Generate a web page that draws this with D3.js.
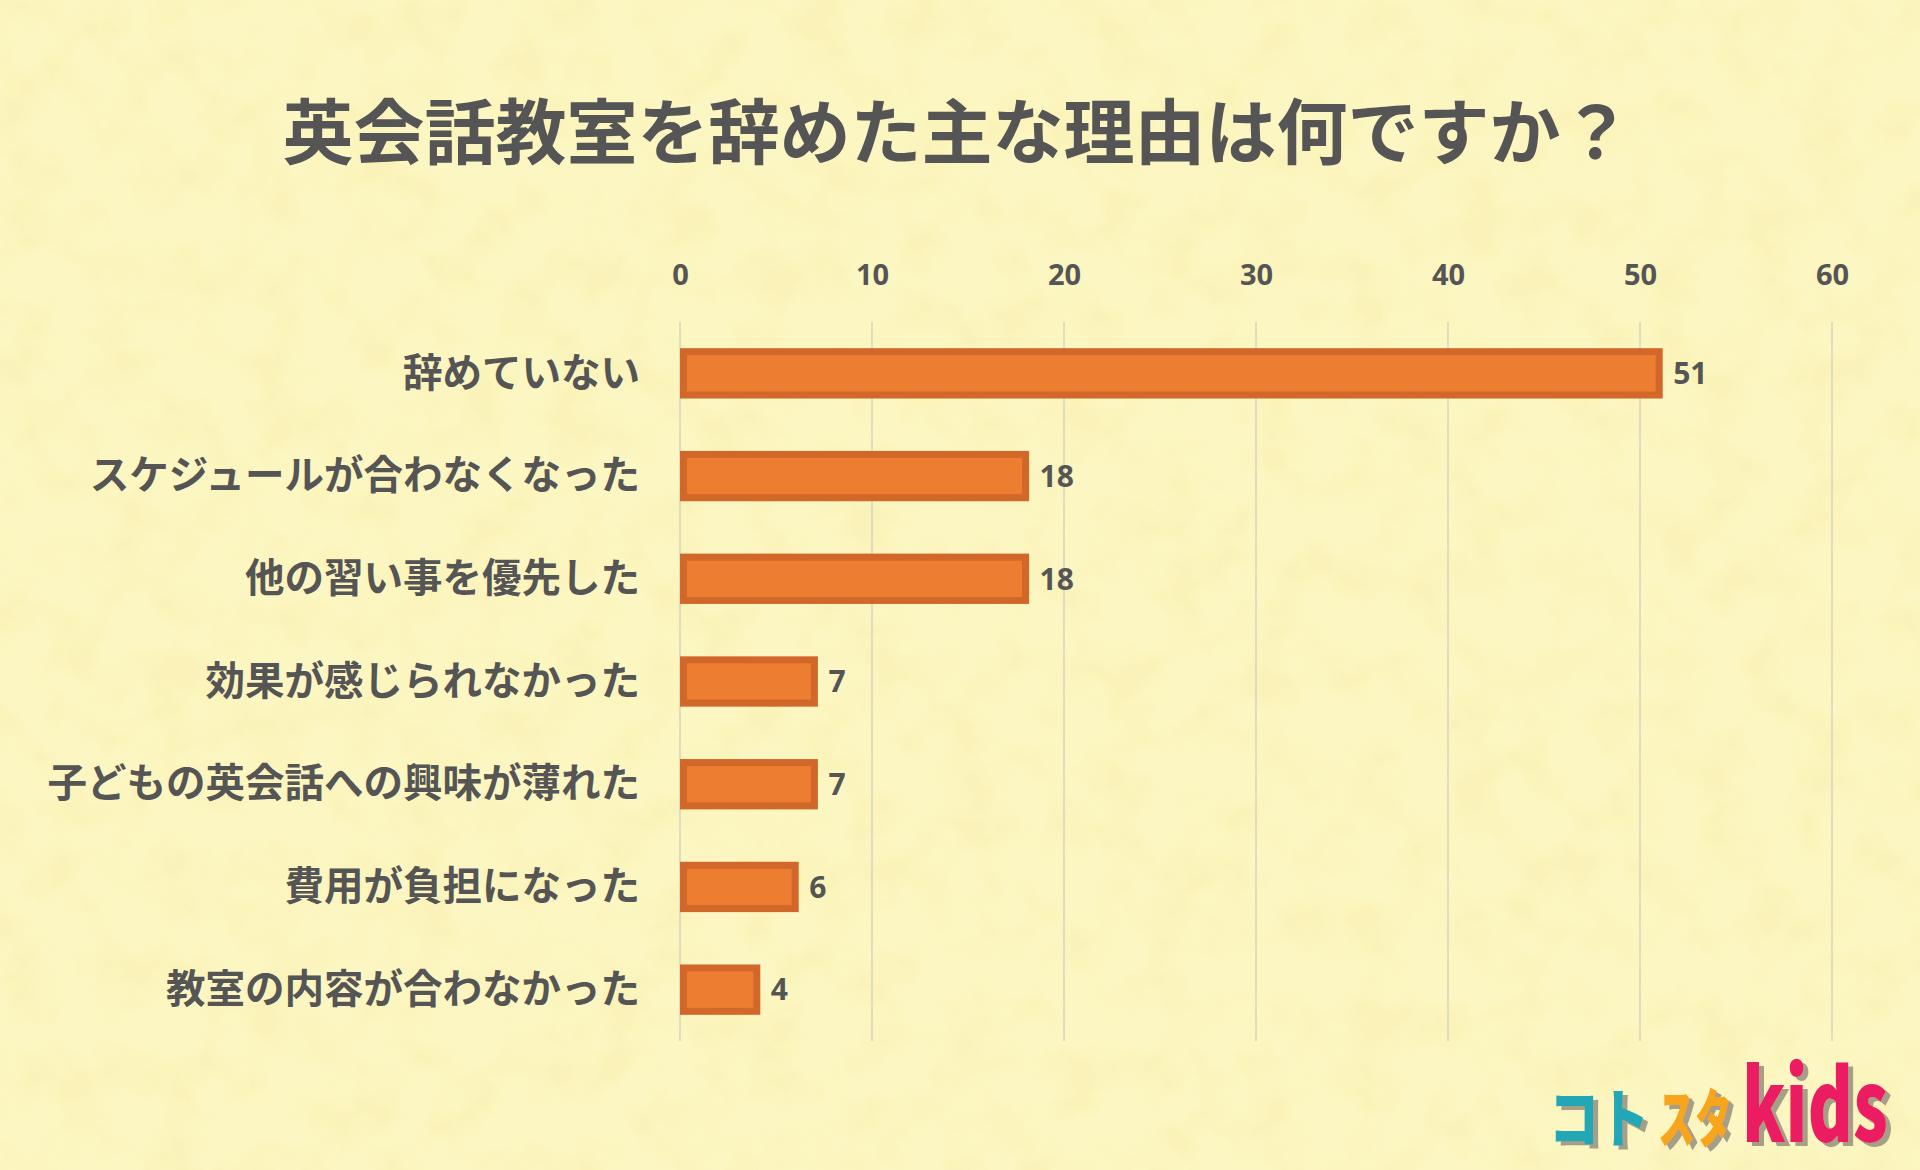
<!DOCTYPE html>
<html><head><meta charset="utf-8">
<script src="https://cdn.jsdelivr.net/npm/d3@7"></script>
<style>html,body{margin:0;padding:0;background:#FAF1AE;}svg{display:block;}</style>
</head><body>
<script>
const title = "英会話教室を辞めた主な理由は何ですか？";
const categories = ["辞めていない","スケジュールが合わなくなった","他の習い事を優先した","効果が感じられなかった","子どもの英会話への興味が薄れた","費用が負担になった","教室の内容が合わなかった"];
const values = [51,18,18,7,7,6,4];
const tickValues = [0,10,20,30,40,50,60];

const W=1920,H=1170;
const svg=d3.select("body").append("svg").attr("width",W).attr("height",H);
const defs=svg.append("defs");
const f=defs.append("filter").attr("id","tex").attr("x",0).attr("y",0).attr("width","100%").attr("height","100%");
f.append("feTurbulence").attr("type","fractalNoise").attr("baseFrequency","0.02").attr("numOctaves",4).attr("seed",7).attr("result","n");
f.append("feColorMatrix").attr("in","n").attr("type","matrix")
 .attr("values","0 0 0 0 0.95  0 0 0 0 0.88  0 0 0 0 0.45  3.2 0 0 0 -1.35");
const sh=defs.append("filter").attr("id","sh").attr("x","-10%").attr("y","-10%").attr("width","130%").attr("height","130%");
sh.append("feDropShadow").attr("dx",5).attr("dy",4).attr("stdDeviation",0).attr("flood-color","#A49F86").attr("flood-opacity",1);

svg.append("rect").attr("width",W).attr("height",H).attr("fill","#FCF6C2");
svg.append("rect").attr("width",W).attr("height",H).attr("filter","url(#tex)").attr("opacity",0.6);

const textCol="#555555";
svg.append("text").attr("x",957).attr("y",127).attr("text-anchor","middle").attr("dominant-baseline","central")
 .attr("font-family","'Noto Sans CJK JP'").attr("font-weight",700).attr("font-size",71).attr("fill",textCol).text(title);

const x=d3.scaleLinear().domain([0,60]).range([680,1832]);
const y=d3.scaleBand().domain(categories).range([322,1041]).paddingInner(0.51).paddingOuter(0.255);

const g=svg.append("g");
g.selectAll("line.grid").data(tickValues).join("line").attr("class","grid")
 .attr("x1",d=>x(d)).attr("x2",d=>x(d)).attr("y1",322).attr("y2",1041)
 .attr("stroke","#D6D3C0").attr("stroke-width",1.5);

const ax=svg.append("g").attr("transform","translate(0,275)")
 .call(d3.axisTop(x).tickValues(tickValues).tickSize(0).tickPadding(0));
ax.select(".domain").remove();
ax.selectAll("text").attr("dy","0.35em").attr("font-family","'Open Sans'").attr("font-weight",700).attr("font-size",29).attr("fill",textCol);

g.selectAll("rect.bar").data(values).join("rect").attr("class","bar")
 .attr("x",x(0)+3.5).attr("y",(d,i)=>y(categories[i])+3.5)
 .attr("width",d=>x(d)-x(0)-3.5).attr("height",y.bandwidth()-7)
 .attr("fill","#ED7D31").attr("stroke","#D2672A").attr("stroke-width",7);

g.selectAll("text.val").data(values).join("text").attr("class","val")
 .attr("x",d=>x(d)+14).attr("y",(d,i)=>y(categories[i])+y.bandwidth()/2).attr("dy","0.36em")
 .attr("font-family","'Open Sans'").attr("font-weight",700).attr("font-size",30).attr("fill",textCol).text(d=>d);

g.selectAll("text.cat").data(categories).join("text").attr("class","cat")
 .attr("x",640).attr("y",d=>y(d)+y.bandwidth()/2-1).attr("dy","0.36em").attr("text-anchor","end")
 .attr("font-family","'Noto Sans CJK JP'").attr("font-weight",700).attr("font-size",39.5).attr("fill",textCol).text(d=>d);

// logo
const logo=svg.append("g").attr("font-family","'Noto Sans CJK JP'").attr("font-weight",900).attr("filter","url(#sh)");
const parts=[{t:"コト",x:1549,y:1142,s:64,c:"#22A7B6",w:100},{t:"スタ",x:1658,y:1142,s:64,c:"#F8A51C",w:74},{t:"kids",x:1742,y:1142,s:100,c:"#EC1F63",w:146}];
parts.forEach(p=>{
  const t=logo.append("text").attr("x",0).attr("y",0).attr("font-size",p.s).attr("fill",p.c).text(p.t);
  const nat=t.node().getComputedTextLength()||p.w;
  t.attr("transform",`translate(${p.x},${p.y}) scale(${p.w/nat},1)`);
});
</script>
</body></html>
